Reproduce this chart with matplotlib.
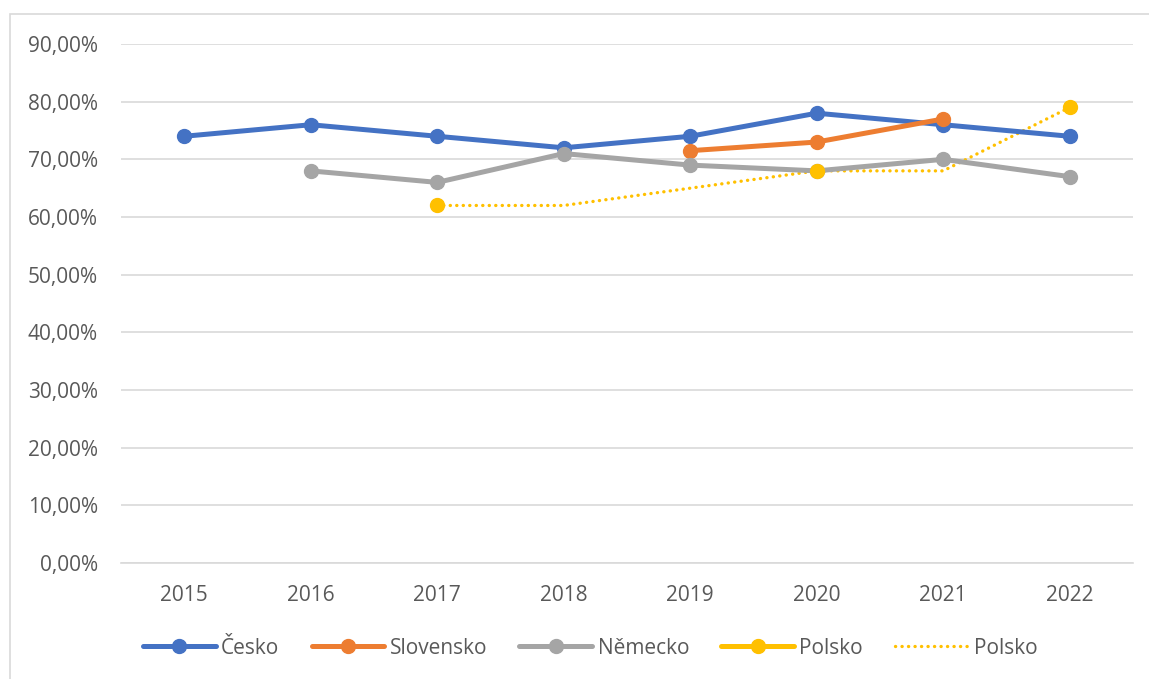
import numpy as np
import matplotlib
matplotlib.use("Agg")
import matplotlib.pyplot as plt
from matplotlib.ticker import FuncFormatter, MultipleLocator
from matplotlib.patches import Rectangle

plt.rcParams['font.family'] = ['Open Sans', 'DejaVu Sans']

# --- data ---
years = ['2015', '2016', '2017', '2018', '2019', '2020', '2021', '2022']
nan = np.nan
cesko = [0.74, 0.76, 0.74, 0.72, 0.74, 0.78, 0.76, 0.74]
slovensko = [nan, nan, nan, nan, 0.715, 0.73, 0.77, nan]
nemecko = [nan, 0.68, 0.66, 0.71, 0.69, 0.68, 0.70, 0.67]
polsko = [nan, nan, 0.62, nan, nan, 0.68, nan, 0.79]
polsko_trend = [nan, nan, 0.62, 0.62, 0.65, 0.68, 0.68, 0.79]

series = [
    ('Česko', cesko, '#4472C4'),
    ('Slovensko', slovensko, '#ED7D31'),
    ('Německo', nemecko, '#A5A5A5'),
    ('Polsko', polsko, '#FFC000'),
]

fig = plt.figure(figsize=(11.49, 6.79), dpi=100)
ax = fig.add_axes([0.1053, 0.1708, 0.8807, 0.7644])

# chart frame (Excel style)
fig.patches.append(Rectangle((10 / 1149, -0.5), 2.0, 0.5 + 1 - 14 / 679,
                             transform=fig.transFigure, fill=False,
                             edgecolor='#D9D9D9', linewidth=1.2))

x = np.arange(len(years))
for name, vals, col in series:
    ax.plot(x, vals, color=col, linewidth=3.6, marker='o', markersize=10,
            label=name, solid_capstyle='round', zorder=3)

# dotted trend line for Polsko
ax.plot(x, polsko_trend, color='#FFC000', linewidth=2.4, linestyle=(0, (0.05, 1.9)),
        dash_capstyle='round', label='Polsko', zorder=2)

ax.set_xlim(-0.5, len(years) - 0.5)
ax.set_ylim(0, 0.9)
ax.yaxis.set_major_locator(MultipleLocator(0.1))
ax.yaxis.set_major_formatter(FuncFormatter(lambda v, p: f'{v * 100:.2f}%'.replace('.', ',')))
ax.set_xticks(x)
ax.set_xticklabels(years)
ax.grid(axis='y', color='#D9D9D9', linewidth=1.2)
ax.set_axisbelow(True)
for s in ['top', 'right', 'left']:
    ax.spines[s].set_visible(False)
ax.spines['bottom'].set_color('#D9D9D9')
ax.spines['bottom'].set_linewidth(1.2)
ax.tick_params(length=0, labelsize=15, colors='#595959')
ax.tick_params(axis='x', pad=16)
ax.tick_params(axis='y', pad=16.5)

leg = fig.legend(loc='center', bbox_to_anchor=(590 / 1149, 1 - 648 / 679), ncol=5,
                 frameon=False, fontsize=15, handlelength=3.5, handletextpad=0.25,
                 columnspacing=1.55)
for t in leg.get_texts():
    t.set_color('#595959')

fig.savefig('out.png', dpi=100)
